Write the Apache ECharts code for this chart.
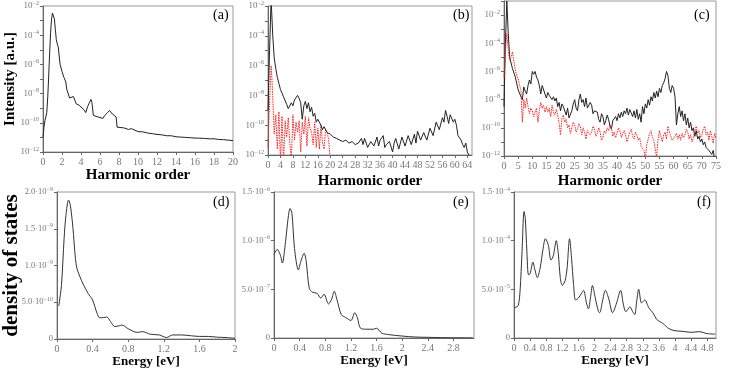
<!DOCTYPE html>
<html><head><meta charset="utf-8">
<script src="https://cdn.jsdelivr.net/npm/echarts@6/dist/echarts.min.js"></script>
<style>html,body{margin:0;padding:0;background:#fff}#c{width:747px;height:372px}</style>
</head><body><div id="c"></div>
<script>
// ---- data ----
const panelA = [[0,1e-11],[0.1,5e-11],[0.2,1.4e-10],[0.3,1.6e-10],[0.4,5e-10],[0.5,6e-9],[0.6,1.6e-7],[0.7,6e-6],[0.8,1.6e-4],[0.9,1.3e-3],[1.0,3.3e-3],[1.1,2.8e-3],[1.2,1.3e-3],[1.3,2.5e-4],[1.4,5e-5],[1.5,2.5e-5],[1.6,1.6e-5],[1.8,1e-6],[2.0,3.2e-7],[2.2,1.3e-7],[2.4,6.3e-8],[2.5,2e-8],[2.7,1.6e-8],[2.8,5e-9],[3.0,5e-9],[3.2,6.3e-9],[3.3,5e-9],[3.5,2e-9],[3.8,1.6e-9],[4.0,1.3e-9],[4.3,8e-10],[4.5,5e-10],[4.7,1.3e-9],[4.9,2.5e-9],[5.05,4e-9],[5.15,2.5e-9],[5.3,3.2e-10],[5.5,4e-10],[5.8,2.5e-10],[6.0,2e-10],[6.3,2e-10],[6.5,3.2e-10],[6.8,5e-10],[7.0,7e-10],[7.1,8e-10],[7.3,4e-10],[7.5,3.2e-10],[7.7,2.5e-10],[7.8,5e-11],[8.0,5e-11],[8.5,4.5e-11],[9,3.5e-11],[9.3,4e-11],[9.5,3e-11],[10,2.5e-11],[10.5,2.4e-11],[11,2e-11],[11.5,1.8e-11],[12,1.6e-11],[12.5,1.5e-11],[13,1.3e-11],[13.5,1.3e-11],[14,1.1e-11],[14.5,1.05e-11],[15,1e-11],[15.5,9.5e-12],[16,9e-12],[16.5,8.8e-12],[17,8.5e-12],[17.5,8e-12],[18,8e-12],[18.5,7.2e-12],[19,7e-12],[19.5,6.5e-12],[20,6e-12]];

const panelBBlack = [[0,1e-9],[0.5,1e-5],[1,3e-2],[1.5,1.3e-4],[2,3.2e-6],[2.5,6.3e-7],[3,1.6e-7],[3.5,6.3e-8],[4,2.5e-8],[5,8e-9],[6,2.5e-9],[6.5,1.3e-9],[7,1.6e-9],[7.5,3.2e-9],[8,2e-9],[8.5,5e-9],[9,4e-9],[9.5,1e-8],[10,6.3e-9],[10.5,3.2e-9],[11,2.5e-10],[11.5,2e-9],[12,4e-9],[12.5,1.3e-9],[13,3.2e-9],[13.5,8e-10],[14,1.6e-9],[14.5,4e-10],[15,6.3e-10],[15.5,1.6e-10],[16,2.5e-10],[17,1e-10],[17.5,5e-11],[18,8e-11],[19,3.2e-11],[20,2.5e-11],[21,1.6e-11],[22,1.3e-11],[23,1e-11],[24,8e-12],[25,1e-11],[26,6.3e-12],[27,8e-12],[28,5e-12],[29,6.3e-12],[30,1.3e-11],[30.5,5e-12],[31,1.3e-11],[32,3.2e-12],[33,8e-12],[34,4e-12],[35,1.6e-11],[35.5,4e-12],[36,1e-11],[37,2e-11],[37.5,3.2e-12],[38,5e-12],[39,8e-12],[40,1.6e-12],[40.5,6.3e-12],[41,1.3e-11],[42,2.5e-12],[43,1.6e-11],[44,4e-12],[45,2e-11],[46,5e-12],[47,2.5e-11],[47.5,6.3e-12],[48,4e-11],[49,1e-11],[50,3.2e-11],[51,1e-11],[52,6.3e-11],[53,2e-11],[54,1.6e-10],[55,5e-11],[56,3.2e-10],[56.5,1.6e-10],[57,1e-9],[57.5,4e-10],[58,1.3e-10],[58.5,5e-10],[59,6.3e-10],[59.5,1.6e-10],[60,2.5e-10],[60.5,1e-10],[61,2e-11],[62,1e-11],[62.5,5e-12],[63,3.2e-12],[63.5,6.3e-12],[64,1.6e-12],[65,6e-13]];

const panelBRed = [[0,3.2e-12],[0.3,3.2e-10],[0.6,1e-8],[1,1e-6],[1.3,1e-7],[1.6,3.2e-9],[2,2.5e-11],[2.5,5e-10],[3,2.5e-12],[3.5,8e-10],[4,3e-13],[4.5,4e-10],[5,3e-13],[5.5,2e-10],[6,1.6e-11],[6.5,3.2e-10],[7,6.3e-12],[7.5,5e-13],[8,5e-10],[8.5,1e-11],[9,1.6e-10],[9.5,3.2e-11],[10,2e-10],[10.5,1.6e-12],[11,1.6e-10],[11.5,2.5e-11],[12,4e-10],[12.5,4e-12],[13,3.2e-10],[13.5,6.3e-11],[14,3.2e-11],[14.5,5e-12],[15,1.6e-10],[15.5,3.2e-12],[16,6.3e-11],[16.5,2.5e-12],[17,1e-10],[17.5,6.3e-12],[18,2.5e-12],[18.5,5e-11],[19,3.2e-11],[19.5,1e-11],[20,3e-13]];

const panelCBlack = [[0,3.2e-9],[0.5,1e-4],[1,1e-1],[1.5,5e-4],[2,1e-5],[3,1.6e-6],[4,4e-7],[5,5e-8],[6,1.6e-8],[6.5,1e-8],[7,8e-8],[7.5,4e-8],[8,2.5e-8],[8.5,1e-7],[9,2.5e-7],[9.5,1.3e-7],[10,1e-6],[10.5,6.3e-7],[11,1e-6],[11.5,4e-7],[12,2.5e-7],[12.5,1e-7],[13,2.5e-8],[13.5,1e-7],[14,8e-8],[14.5,2.5e-8],[15,1.3e-8],[15.5,3.2e-8],[16,2e-8],[17,1e-8],[17.5,1.6e-8],[18,8e-9],[18.5,1.3e-8],[19,3.2e-9],[19.5,6.3e-9],[20,1.6e-9],[20.5,5e-9],[21,3.2e-9],[22,8e-10],[22.5,2.5e-9],[23,5e-10],[24,1.6e-9],[24.5,5e-9],[25,1e-8],[25.5,2.5e-9],[26,1.6e-9],[26.5,1e-8],[27,2.5e-8],[27.5,6.3e-9],[28,1e-8],[28.5,3.2e-9],[29,1.3e-8],[29.5,2.5e-9],[30,2e-9],[30.5,6.3e-9],[31,4e-9],[31.5,1e-9],[32,1.6e-9],[33,1.3e-9],[33.5,4e-10],[34,2.5e-10],[34.5,1e-9],[35,6.3e-10],[35.5,1.6e-10],[36,3.2e-10],[36.5,8e-10],[37,4e-10],[37.5,1.3e-10],[38,8e-11],[38.5,3.2e-10],[39,2.5e-10],[39.5,6.3e-10],[40,3.2e-10],[40.5,1e-9],[41,5e-10],[41.5,1.3e-9],[42,6.3e-10],[42.5,1.6e-9],[43,1e-9],[43.5,2.5e-9],[44,8e-10],[44.5,2e-9],[45,2.5e-9],[45.5,6.3e-10],[46,1.6e-9],[46.5,5e-10],[47,2e-9],[47.5,4e-10],[48,1e-9],[48.5,2.5e-10],[49,3.2e-9],[49.5,1e-9],[50,5e-9],[50.5,2.5e-9],[51,1e-8],[51.5,4e-9],[52,1.6e-8],[52.5,8e-9],[53,3.2e-8],[53.5,1.3e-8],[54,4e-8],[54.5,1.6e-8],[55,6.3e-8],[55.5,3.2e-8],[56,1e-7],[56.5,1.6e-7],[57,3.2e-7],[57.5,1e-6],[58,5e-7],[58.5,6.3e-8],[59,3.2e-8],[59.5,1e-7],[60,6.3e-8],[60.5,1.6e-8],[61,1.6e-10],[61.5,1e-9],[62,3.2e-9],[62.5,6.3e-10],[63,1.6e-9],[63.5,3.2e-10],[64,1e-9],[64.5,1.6e-10],[65,5e-10],[65.5,1e-10],[66,2.5e-10],[66.5,6.3e-11],[67,1e-10],[67.5,2.5e-11],[68,6.3e-11],[68.5,1.6e-11],[69,2.5e-11],[69.5,1e-11],[70,1.6e-11],[70.5,6.3e-12],[71,1e-11],[71.5,4e-12],[72,5e-12],[72.5,2.5e-12],[73,3.2e-12],[73.5,1.3e-12],[74,2.5e-12],[74.5,6.3e-13],[75,1e-12]];

const panelCRed = [[0,4e-7],[0.5,3.2e-5],[1,5e-4],[1.5,3.2e-5],[2,6.3e-6],[2.5,1e-5],[3,2.5e-5],[3.5,5e-6],[4,1.3e-6],[4.5,5e-7],[5,3.2e-7],[5.5,1e-7],[6,5e-8],[6.5,2.5e-10],[7,1e-8],[7.5,2.5e-9],[8,1.3e-8],[8.5,3.2e-9],[9,1e-9],[9.5,2.5e-9],[10,1.6e-9],[10.5,6.3e-10],[11,8e-10],[11.5,2.5e-9],[12,2.5e-10],[12.5,1.6e-9],[13,6.3e-9],[13.5,2.5e-9],[14,4e-9],[14.5,1.3e-9],[15,3.2e-9],[15.5,1.3e-9],[16,2.5e-9],[16.5,6.3e-10],[17,4e-9],[17.5,1.3e-9],[18,8e-10],[18.5,2e-9],[19,8e-10],[19.5,2e-10],[20,3.2e-11],[20.5,5e-10],[21,8e-10],[21.5,2.5e-10],[22,4e-10],[22.5,1e-10],[23,1.6e-10],[23.5,4e-11],[24,1e-10],[24.5,2.5e-10],[25,1.6e-10],[25.5,5e-11],[26,8e-11],[26.5,2e-10],[27,1.3e-10],[27.5,3.2e-11],[28,1e-10],[28.5,5e-11],[29,1.6e-11],[29.5,6.3e-11],[30,8e-11],[30.5,3.2e-11],[31,5e-11],[31.5,1.3e-10],[32,8e-11],[32.5,2.5e-11],[33,4e-11],[33.5,1e-10],[34,5e-11],[34.5,1.3e-11],[35,2e-11],[35.5,6.3e-11],[36,4e-11],[36.5,1e-10],[37,6.3e-11],[37.5,1.6e-10],[38,1e-10],[38.5,2.5e-11],[39,5e-11],[39.5,2e-11],[40,4e-11],[40.5,1e-10],[41,6.3e-11],[41.5,2e-11],[42,4e-11],[42.5,6.3e-11],[43,3.2e-11],[43.5,1e-11],[44,8e-12],[44.5,5e-11],[45,8e-11],[45.5,2.5e-11],[46,1.6e-11],[46.5,5e-11],[47,3.2e-11],[47.5,1.3e-11],[48,2e-11],[48.5,5e-12],[49,6.3e-12],[49.5,2.5e-12],[50,6.3e-13],[50.5,6.3e-12],[51,1.6e-11],[51.5,4e-11],[52,6.3e-11],[52.5,2e-11],[53,1.3e-11],[53.5,3.2e-12],[54,8e-13],[54.5,1.6e-11],[55,6.3e-11],[55.5,2.5e-11],[56,1e-11],[56.5,3.2e-11],[57,5e-11],[57.5,1.6e-11],[58,1.3e-10],[58.5,5e-11],[59,2.5e-11],[59.5,1.3e-11],[60,1e-11],[60.5,2.5e-11],[61,4e-11],[61.5,1.6e-11],[62,3.2e-11],[62.5,1.3e-11],[63,4e-11],[63.5,2e-11],[64,3.2e-11],[64.5,8e-11],[65,5e-11],[65.5,1.6e-11],[66,3.2e-11],[66.5,1e-11],[67,2e-11],[67.5,6.3e-11],[68,1.3e-10],[68.5,4e-11],[69,6.3e-11],[69.5,2e-11],[70,3.2e-11],[70.5,8e-11],[71,1.3e-10],[71.5,3.2e-11],[72,5e-11],[72.5,1.3e-11],[73,6.3e-11],[73.5,2.5e-11],[74,8e-12],[74.5,4e-11],[75,2e-11]];

const panelD = [[0.02,4.5e-10],[0.05,7.3e-10],[0.08,1.37e-9],[0.1,1.68e-9],[0.13,1.89e-9],[0.15,1.82e-9],[0.18,1.5e-9],[0.2,1.19e-9],[0.22,9.8e-10],[0.25,8.7e-10],[0.3,7.3e-10],[0.35,6.2e-10],[0.4,5.3e-10],[0.45,3.5e-10],[0.48,2.9e-10],[0.52,2.9e-10],[0.56,3e-10],[0.6,2.4e-10],[0.65,1.7e-10],[0.7,1.8e-10],[0.73,1.9e-10],[0.8,1.4e-10],[0.9,9e-11],[0.96,1e-10],[1.05,6.5e-11],[1.15,5.5e-11],[1.23,2e-11],[1.3,5.5e-11],[1.4,5.5e-11],[1.5,4.5e-11],[1.6,3.5e-11],[1.7,3.5e-11],[1.8,2.5e-11],[1.9,2e-11],[2,1e-11]];

const panelE = [[0,8.6e-7],[0.05,9.1e-7],[0.1,8.5e-7],[0.13,7.7e-7],[0.18,9.9e-7],[0.22,1.23e-6],[0.25,1.33e-6],[0.28,1.28e-6],[0.32,9.2e-7],[0.38,7e-7],[0.42,7.9e-7],[0.47,8.7e-7],[0.5,8e-7],[0.55,5.1e-7],[0.6,4.7e-7],[0.67,4.6e-7],[0.73,4.1e-7],[0.78,4.5e-7],[0.85,3.5e-7],[0.9,4e-7],[0.94,4.8e-7],[0.98,4e-7],[1.05,2.4e-7],[1.12,2.1e-7],[1.2,1.8e-7],[1.26,2.6e-7],[1.3,2.1e-7],[1.35,1e-7],[1.45,9e-8],[1.55,9e-8],[1.6,1e-7],[1.68,5e-8],[1.8,3.4e-8],[2,2e-8],[2.2,1e-8],[2.4,7e-9],[2.6,4e-9],[2.8,2e-9],[3.1,1e-9]];

const panelF = [[0,3.1e-5],[0.1,3.3e-5],[0.15,4.8e-5],[0.2,8.9e-5],[0.25,1.3e-4],[0.28,1.23e-4],[0.32,8.9e-5],[0.36,6.5e-5],[0.4,6.6e-5],[0.47,7.8e-5],[0.52,7e-5],[0.58,6.2e-5],[0.65,7.2e-5],[0.72,9.1e-5],[0.78,1.02e-4],[0.85,9.6e-5],[0.92,8e-5],[0.98,8.5e-5],[1.05,1e-4],[1.1,8.7e-5],[1.15,6.2e-5],[1.2,5.4e-5],[1.27,5.9e-5],[1.32,7.2e-5],[1.38,1.02e-4],[1.43,8.2e-5],[1.48,5.5e-5],[1.53,3.9e-5],[1.6,4.1e-5],[1.68,4.6e-5],[1.73,4.9e-5],[1.8,3.6e-5],[1.85,3e-5],[1.9,4.1e-5],[1.95,5.4e-5],[2.02,4.1e-5],[2.1,2.7e-5],[2.13,2.6e-5],[2.2,3.8e-5],[2.27,4.9e-5],[2.35,4.1e-5],[2.45,2.6e-5],[2.55,3.6e-5],[2.65,4.9e-5],[2.72,3.4e-5],[2.78,2.7e-5],[2.88,3.2e-5],[2.95,2.7e-5],[3.0,2.4e-5],[3.05,3.8e-5],[3.1,5e-5],[3.17,3.6e-5],[3.25,3.9e-5],[3.35,3.1e-5],[3.45,2.6e-5],[3.55,1.9e-5],[3.7,1.5e-5],[3.85,9.6e-6],[4,7.5e-6],[4.2,6.8e-6],[4.4,5.8e-6],[4.6,6.5e-6],[4.8,4.5e-6],[5,4e-6]];

const panelLabels = ['(a)','(b)','(c)','(d)','(e)','(f)'];
const xNameTop = 'Harmonic order';
const xNameBottom = 'Energy [eV]';
const yNameTop = 'Intensity [a.u.]';
const yNameBottom = 'density of states';

// ---- chart ----
const SERIF = '"Liberation Serif","DejaVu Serif",serif';
const grey = '#777';
const richTop = {
  b: {fontFamily: SERIF, fontSize: 9, color: grey},
  s: {fontFamily: SERIF, fontSize: 6, color: grey, padding: [0,0,6,0]}
};
const richBot = {
  b: {fontFamily: SERIF, fontSize: 8.5, color: grey},
  s: {fontFamily: SERIF, fontSize: 6, color: grey, padding: [0,0,6,0]}
};
function logLabel(v){
  const e = Math.round(Math.log10(v));
  if (e % 2 !== 0) return '';
  return '{b|10}{s|\u2212' + (-e) + '}';
}
function sciLabel(v){
  if (v === 0) return '{b|0}';
  const e = Math.floor(Math.log10(v) + 1e-9);
  const m = v / Math.pow(10, e);
  return '{b|' + m.toFixed(1) + '\u00b710}{s|\u2212' + (-e) + '}';
}
function numLabel(v){ return String(+v.toFixed(1)); }

const grids = [
  {left: 43, top: 3, width: 190, height: 149},
  {left: 268, top: 4, width: 204, height: 151},
  {left: 504, top: 1, width: 212, height: 155},
  {left: 56, top: 192, width: 179, height: 147},
  {left: 274, top: 192, width: 200, height: 146},
  {left: 514, top: 192, width: 202, height: 146}
].map(g => Object.assign({show: true, borderColor: '#999', borderWidth: 1, backgroundColor: 'transparent'}, g));

const axisLine = {show: true, lineStyle: {color: '#666', width: 1}};
const axisTick = {show: true, length: 3, lineStyle: {color: '#666'}};
const nameStyleTop = {fontFamily: SERIF, fontWeight: 'bold', fontSize: 15, color: '#000'};
const nameStyleBot = {fontFamily: SERIF, fontWeight: 'bold', fontSize: 13, color: '#000'};
const xl = (fmt, extra) => Object.assign({fontFamily: SERIF, fontSize: 10, color: grey, margin: 5, formatter: fmt, showMaxLabel: false, hideOverlap: false}, extra || {});

const xAxes = [
  {gridIndex: 0, type: 'value', min: 0, max: 20, interval: 2, name: xNameTop, nameGap: 16, nameTextStyle: nameStyleTop, axisLabel: xl(null, {showMaxLabel: true})},
  {gridIndex: 1, type: 'value', min: 0, max: 65.5, interval: 4, name: xNameTop, nameGap: 19, nameTextStyle: nameStyleTop, axisLabel: xl(null)},
  {gridIndex: 2, type: 'value', min: 0, max: 75, interval: 5, name: xNameTop, nameGap: 18, nameTextStyle: nameStyleTop, axisLabel: xl(null, {showMaxLabel: true})},
  {gridIndex: 3, type: 'value', min: 0, max: 2, interval: 0.4, name: xNameBottom, nameGap: 16, nameTextStyle: nameStyleBot, axisLabel: xl(numLabel, {showMaxLabel: true})},
  {gridIndex: 4, type: 'value', min: 0, max: 3.12, interval: 0.4, name: xNameBottom, nameGap: 16, nameTextStyle: nameStyleBot, axisLabel: xl(numLabel)},
  {gridIndex: 5, type: 'value', min: 0, max: 5.02, interval: 0.4, name: xNameBottom, nameGap: 16, nameTextStyle: nameStyleBot, axisLabel: xl(numLabel)}
].map(a => Object.assign({nameLocation: 'middle', nameMoveOverlap: false, axisLine, axisTick, splitLine: {show: false}}, a));

const yl = (fmt, rich) => ({fontFamily: SERIF, fontSize: 9, color: grey, margin: 4, formatter: fmt, rich, hideOverlap: false, showMinLabel: true, showMaxLabel: true});
const yAxes = [
  {gridIndex: 0, type: 'log', logBase: 10, min: 1e-12, max: 1e-2, interval: 1, name: yNameTop, nameGap: 25, nameRotate: 90, nameTextStyle: nameStyleTop, axisLabel: yl(logLabel, richTop)},
  {gridIndex: 1, type: 'log', logBase: 10, min: 1e-12, max: 1e-2, interval: 1, axisLabel: yl(logLabel, richTop)},
  {gridIndex: 2, type: 'log', logBase: 10, min: 1e-12, max: 1e-1, interval: 1, axisLabel: yl(logLabel, richTop)},
  {gridIndex: 3, type: 'value', min: 0, max: 2e-9, interval: 5e-10, name: yNameBottom, nameGap: 35, nameRotate: 90, nameTextStyle: {fontFamily: SERIF, fontWeight: 'bold', fontSize: 21, color: '#000'}, axisLabel: yl(sciLabel, richBot)},
  {gridIndex: 4, type: 'value', min: 0, max: 1.5e-6, interval: 5e-7, axisLabel: yl(sciLabel, richBot)},
  {gridIndex: 5, type: 'value', min: 0, max: 1.5e-4, interval: 5e-5, axisLabel: yl(sciLabel, richBot)}
].map(a => Object.assign({nameLocation: 'middle', nameMoveOverlap: false, axisLine, axisTick, splitLine: {show: false}}, a));

function line(idx, data, color, dashed, smooth){
  return {type: 'line', xAxisIndex: idx, yAxisIndex: idx, data, showSymbol: false, symbol: 'none', smooth: smooth || false, clip: true,
    lineStyle: {color, width: 1, type: dashed ? [1.5, 1] : 'solid'}, silent: true, animation: false};
}
const series = [
  line(0, panelA, '#222'),
  line(1, panelBRed, '#ff2020', true),
  line(1, panelBBlack, '#222'),
  line(2, panelCBlack, '#222'),
  line(2, panelCRed, '#ff2020', true),
  line(3, panelD, '#333', false, 0.3),
  line(4, panelE, '#333', false, 0.3),
  line(5, panelF, '#333', false, 0.3)
];

const labelPos = [[213,8],[453,8],[694,8],[213,195],[453,195],[697,195]];
const graphic = panelLabels.map((t, i) => ({type: 'text', left: labelPos[i][0], top: labelPos[i][1], style: {text: t, font: '14px ' + SERIF, fill: '#000'}}));

const chart = echarts.init(document.getElementById('c'), null, {renderer: 'canvas'});
chart.setOption({animation: false, backgroundColor: '#fff', grid: grids, xAxis: xAxes, yAxis: yAxes, series, graphic});
</script></body></html>
